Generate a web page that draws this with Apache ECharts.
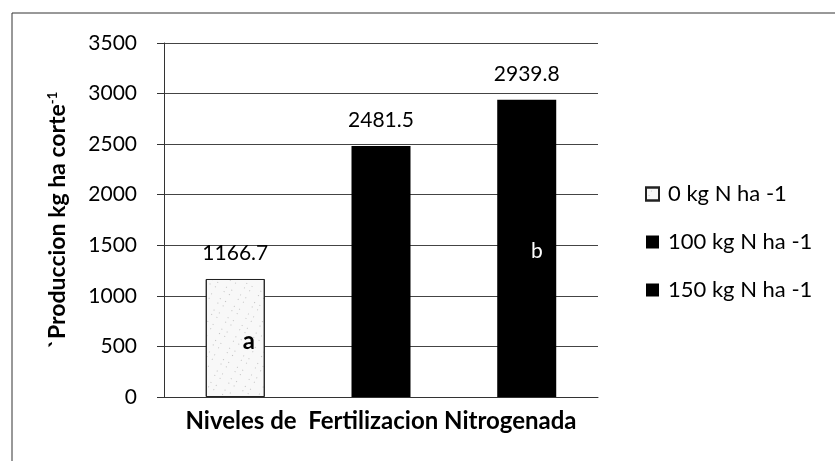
<!DOCTYPE html>
<html>
<head>
<meta charset="utf-8">
<script src="https://cdn.jsdelivr.net/npm/echarts@6/dist/echarts.min.js"></script>
<style>html,body{margin:0;padding:0;background:#fff}#c{width:835px;height:461px}</style>
</head>
<body>
<div id="c"></div>
<script>
const categories = ['Niveles de  Fertilizacion Nitrogenada'];
const seriesNames = ['0 kg N ha -1', '100 kg N ha -1', '150 kg N ha -1'];
const values0 = [1166.7];
const values100 = [2481.5];
const values150 = [2939.8];
const letters = ['a', '', 'b'];
const yTicks = [0, 500, 1000, 1500, 2000, 2500, 3000, 3500];

const FONT = 'Lato';
const colors = ['#f8f8f8', '#000000', '#000000'];
const allValues = [values0, values100, values150];
const letterPos = [['73%', '53%'], ['50%', '50%'], ['67%', '51%']];
const letterStyle = [
  {color: '#000', fontWeight: 'bold', fontSize: 24},
  {color: '#fff'},
  {color: '#fff', fontWeight: 'normal', fontSize: 21}
];

const mainSeries = allValues.map((vals, i) => ({
  name: seriesNames[i],
  type: 'bar',
  xAxisIndex: 0,
  data: vals,
  barWidth: 59,
  barGap: '147%',
  itemStyle: Object.assign({color: colors[i], borderColor: '#222', borderWidth: i === 0 ? 1 : 0},
    i === 0 ? {decal: {symbol: 'rect', symbolSize: 1, color: 'rgba(0,0,0,0.22)', dashArrayX: [[1, 5, 1, 9]], dashArrayY: [1, 4, 1, 7], rotation: 0.5}} : {}),
  label: {show: true, position: 'top', distance: 15, color: '#000', fontFamily: FONT, fontSize: 21},
  z: 2
}));
const overlaySeries = allValues.map((vals, i) => ({
  name: 'ov' + i,
  type: 'bar',
  xAxisIndex: 1,
  data: vals,
  barWidth: 59,
  barGap: '147%',
  silent: true,
  itemStyle: {color: 'rgba(0,0,0,0)'},
  label: Object.assign({show: letters[i] !== '', position: letterPos[i], align: 'center', verticalAlign: 'middle',
    formatter: () => letters[i], fontFamily: FONT}, letterStyle[i]),
  z: 3
}));

const chart = echarts.init(document.getElementById('c'));
chart.setOption({
  animation: false,
  backgroundColor: '#fff',
  graphic: [{type: 'rect', shape: {x: 12, y: 13, width: 900, height: 600}, style: {fill: 'none', stroke: '#333', lineWidth: 1}, silent: true, z: -1}],
  grid: {left: 164, right: 237, top: 43, bottom: 64},
  legend: {
    data: seriesNames,
    orient: 'vertical',
    left: 640, top: 178,
    itemWidth: 13, itemHeight: 13, itemGap: 26,
    icon: 'rect',
    textStyle: {fontFamily: FONT, fontSize: 22, color: '#000', padding: [0, 0, 0, 4]}
  },
  xAxis: [{
    type: 'category', data: categories,
    axisLine: {lineStyle: {color: '#333'}},
    axisTick: {show: false},
    axisLabel: {fontFamily: FONT, fontSize: 24, fontWeight: 'bold', color: '#000', margin: 12}
  }, {
    type: 'category', data: categories, show: false
  }],
  yAxis: {
    type: 'value', min: 0, max: 3500, interval: 500,
    name: '{m|`Produccion kg ha corte}{s|-1}',
    nameLocation: 'middle', nameGap: 95, nameRotate: 90,
    nameTextStyle: {rich: {
      m: {fontFamily: FONT, fontSize: 23, fontWeight: 'bold', color: '#000'},
      s: {fontFamily: FONT, fontSize: 13, fontWeight: 'bold', color: '#000', verticalAlign: 'top', padding: [0, 0, 10, 0]}
    }},
    axisLine: {show: true, lineStyle: {color: '#333'}},
    axisTick: {show: true, length: 7, lineStyle: {color: '#333'}},
    splitLine: {lineStyle: {color: '#444', width: 1}},
    axisLabel: {fontFamily: FONT, fontSize: 21, color: '#000', margin: 27, formatter: v => yTicks.includes(v) ? String(v) : ''}
  },
  series: mainSeries.concat(overlaySeries)
});
</script>
</body>
</html>
